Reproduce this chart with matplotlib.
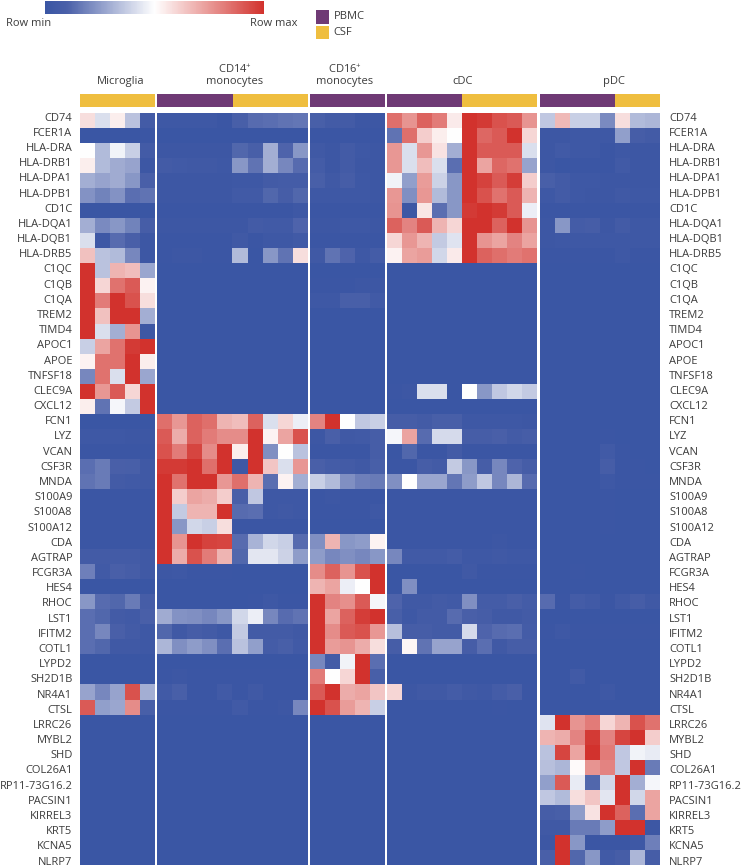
import numpy as np
import matplotlib
matplotlib.use('Agg')
import matplotlib.pyplot as plt
from matplotlib.colors import LinearSegmentedColormap
from matplotlib.cm import ScalarMappable
from matplotlib.patches import Rectangle

plt.rcParams['font.family'] = ['Open Sans', 'DejaVu Sans']
plt.rcParams['mathtext.default'] = 'regular'

genes = ['CD74', 'FCER1A', 'HLA-DRA', 'HLA-DRB1', 'HLA-DPA1', 'HLA-DPB1', 'CD1C', 'HLA-DQA1', 'HLA-DQB1', 'HLA-DRB5',
         'C1QC', 'C1QB', 'C1QA', 'TREM2', 'TIMD4', 'APOC1', 'APOE', 'TNFSF18', 'CLEC9A', 'CXCL12',
         'FCN1', 'LYZ', 'VCAN', 'CSF3R', 'MNDA', 'S100A9', 'S100A8', 'S100A12', 'CDA', 'AGTRAP',
         'FCGR3A', 'HES4', 'RHOC', 'LST1', 'IFITM2', 'COTL1', 'LYPD2', 'SH2D1B', 'NR4A1', 'CTSL',
         'LRRC26', 'MYBL2', 'SHD', 'COL26A1', 'RP11-73G16.2', 'PACSIN1', 'KIRREL3', 'KRT5', 'KCNA5', 'NLRP7']

# 0 = row min (blue), 50 = white, 100 = row max (red)
microglia = [
    [58, 42, 54, 35, 6], [0, 0, 0, 0, 1], [50, 33, 47, 38, 6], [54, 33, 29, 27, 2], [30, 27, 29, 24, 10],
    [23, 19, 23, 14, 15], [0, 0, 0, 0, 0], [30, 21, 24, 19, 8], [42, 3, 13, 10, 2], [65, 35, 33, 20, 2],
    [100, 35, 68, 66, 28], [100, 60, 84, 90, 53], [100, 82, 100, 92, 58], [100, 65, 100, 100, 30], [100, 42, 30, 76, 2],
    [38, 72, 84, 98, 100], [53, 84, 84, 100, 54], [20, 84, 42, 100, 28], [100, 75, 90, 60, 100], [54, 15, 48, 37, 100],
    [0, 0, 0, 0, 0], [3, 3, 3, 2, 2], [1, 1, 1, 1, 1], [14, 17, 10, 9, 4], [15, 17, 6, 5, 4],
    [1, 1, 1, 1, 1], [1, 1, 1, 1, 1], [1, 1, 1, 1, 1], [1, 1, 1, 1, 1], [6, 6, 6, 6, 4],
    [18, 5, 10, 8, 4], [0, 0, 0, 0, 0], [24, 13, 12, 17, 8], [14, 12, 6, 5, 10], [14, 20, 10, 6, 3],
    [14, 12, 4, 4, 3], [0, 0, 0, 0, 0], [0, 0, 0, 0, 0], [27, 20, 27, 92, 30], [90, 26, 28, 78, 9],
    [0, 0, 0, 0, 0], [0, 0, 0, 0, 0], [0, 0, 0, 0, 0], [0, 0, 0, 0, 0], [0, 0, 0, 0, 0],
    [0, 0, 0, 0, 0], [0, 0, 0, 0, 0], [0, 0, 0, 0, 0], [0, 0, 0, 0, 0], [0, 0, 0, 0, 0],
]
cd14 = [
    [3, 3, 3, 3, 1, 9, 13, 14, 15, 16], [0, 0, 0, 0, 0, 0, 0, 0, 0, 0], [2, 2, 2, 2, 2, 12, 9, 30, 11, 24],
    [6, 5, 4, 4, 3, 24, 15, 30, 20, 13], [2, 2, 2, 2, 2, 3, 3, 6, 7, 7], [2, 2, 2, 2, 2, 5, 5, 12, 8, 12],
    [1, 1, 1, 1, 1, 1, 1, 1, 1, 3], [2, 2, 2, 2, 2, 2, 6, 5, 5, 11], [1, 1, 1, 1, 1, 4, 1, 3, 3, 5],
    [1, 2, 2, 1, 1, 33, 0, 24, 15, 58],
    [0, 0, 0, 0, 0, 0, 0, 0, 0, 0], [0, 0, 0, 0, 0, 0, 0, 0, 0, 0], [0, 0, 0, 0, 0, 0, 0, 0, 0, 0],
    [0, 0, 0, 0, 0, 0, 0, 0, 0, 0], [0, 0, 0, 0, 0, 0, 0, 0, 0, 0], [0, 0, 0, 0, 0, 0, 0, 0, 0, 0],
    [0, 0, 0, 0, 0, 0, 0, 0, 0, 0], [0, 0, 0, 0, 0, 0, 0, 0, 0, 0], [0, 0, 0, 0, 0, 0, 0, 0, 0, 0],
    [0, 0, 0, 0, 0, 0, 0, 0, 0, 0],
    [85, 75, 88, 85, 68, 66, 88, 42, 60, 46], [90, 70, 88, 82, 78, 78, 100, 53, 72, 92],
    [92, 82, 95, 78, 100, 54, 100, 22, 50, 35], [98, 98, 100, 85, 100, 3, 100, 64, 42, 75],
    [100, 84, 100, 100, 75, 85, 68, 14, 53, 30], [100, 62, 72, 70, 62, 10, 36, 3, 3, 3],
    [100, 37, 68, 68, 100, 13, 14, 3, 4, 3], [100, 24, 40, 38, 58, 1, 1, 1, 1, 1],
    [100, 76, 100, 96, 95, 13, 31, 40, 38, 13], [100, 70, 92, 82, 68, 12, 44, 44, 39, 25],
    [2, 3, 1, 1, 1, 0, 0, 0, 0, 0], [0, 0, 0, 0, 0, 0, 0, 0, 0, 0], [0, 0, 0, 0, 0, 0, 1, 3, 1, 1],
    [29, 23, 22, 20, 24, 40, 46, 20, 13, 15], [12, 4, 8, 6, 3, 37, 6, 6, 6, 4],
    [32, 22, 25, 22, 14, 35, 26, 7, 9, 5], [0, 0, 0, 0, 0, 0, 0, 0, 0, 0], [1, 2, 1, 1, 1, 1, 1, 1, 1, 1],
    [5, 9, 1, 1, 5, 1, 4, 1, 1, 1], [1, 1, 1, 1, 1, 5, 1, 1, 2, 20],
    [0, 0, 0, 0, 0, 0, 0, 0, 0, 0], [0, 0, 0, 0, 0, 0, 0, 0, 0, 0], [0, 0, 0, 0, 0, 0, 0, 0, 0, 0],
    [0, 0, 0, 0, 0, 0, 0, 0, 0, 0], [0, 0, 0, 0, 0, 0, 0, 0, 0, 0], [0, 0, 0, 0, 0, 0, 0, 0, 0, 0],
    [0, 0, 0, 0, 0, 0, 0, 0, 0, 0], [0, 0, 0, 0, 0, 0, 0, 0, 0, 0], [0, 0, 0, 0, 0, 0, 0, 0, 0, 0],
    [0, 0, 0, 0, 0, 0, 0, 0, 0, 0],
]
cd16 = [
    [9, 6, 6, 2, 2], [1, 1, 1, 1, 1], [4, 2, 6, 3, 2], [7, 2, 6, 2, 2], [9, 4, 8, 3, 2],
    [3, 3, 3, 3, 2], [1, 1, 1, 1, 1], [2, 2, 3, 3, 2], [1, 1, 1, 1, 1], [4, 15, 11, 3, 7],
    [0, 0, 0, 0, 0], [1, 1, 1, 2, 2], [3, 3, 9, 9, 5], [0, 0, 0, 0, 0], [0, 0, 0, 0, 0],
    [0, 0, 0, 0, 0], [0, 0, 0, 0, 0], [0, 0, 0, 0, 0], [0, 0, 0, 0, 0], [0, 0, 0, 0, 0],
    [80, 100, 50, 36, 38], [2, 10, 4, 5, 8], [1, 1, 1, 1, 8], [10, 7, 6, 4, 9], [38, 33, 22, 18, 17],
    [1, 2, 1, 1, 1], [1, 1, 1, 1, 3], [0, 0, 0, 0, 0], [22, 68, 24, 25, 53], [25, 20, 22, 20, 24],
    [78, 88, 76, 92, 100], [68, 72, 46, 50, 100], [100, 80, 77, 90, 48], [100, 72, 88, 97, 100], [100, 78, 90, 92, 75],
    [100, 74, 76, 70, 58], [20, 6, 47, 100, 14], [82, 50, 60, 100, 9], [90, 100, 70, 72, 64], [100, 92, 74, 68, 38],
    [0, 0, 0, 0, 0], [0, 0, 0, 0, 0], [0, 0, 0, 0, 0], [0, 0, 0, 0, 0], [0, 0, 0, 0, 0],
    [0, 0, 0, 0, 0], [0, 0, 0, 0, 0], [0, 0, 0, 0, 0], [0, 0, 0, 0, 0], [0, 0, 0, 0, 0],
]
cdc = [
    [85, 76, 88, 82, 55, 100, 98, 92, 90, 76], [15, 85, 62, 54, 50, 100, 87, 90, 100, 60],
    [75, 42, 75, 57, 30, 100, 90, 90, 90, 42], [75, 42, 66, 42, 14, 100, 72, 87, 84, 27],
    [47, 26, 74, 39, 24, 100, 96, 90, 97, 62], [75, 22, 75, 33, 24, 100, 92, 84, 90, 68],
    [76, 2, 56, 14, 24, 98, 100, 98, 90, 46], [88, 80, 90, 68, 60, 100, 100, 88, 100, 76],
    [60, 75, 68, 37, 43, 100, 76, 72, 80, 72], [53, 72, 74, 40, 55, 100, 88, 85, 82, 84],
    [0, 0, 0, 0, 0, 0, 0, 0, 0, 0], [0, 0, 0, 0, 0, 0, 0, 0, 0, 0], [0, 0, 0, 0, 0, 0, 0, 0, 0, 0],
    [0, 0, 0, 0, 0, 0, 0, 0, 0, 0], [0, 0, 0, 0, 0, 0, 0, 0, 0, 0], [0, 0, 0, 0, 0, 0, 0, 0, 0, 0],
    [0, 0, 0, 0, 0, 0, 0, 0, 0, 0], [0, 0, 0, 0, 0, 0, 0, 0, 0, 0], [1, 2, 42, 42, 0, 50, 24, 36, 40, 37],
    [0, 0, 0, 0, 0, 0, 0, 0, 0, 0],
    [8, 8, 6, 9, 9, 3, 3, 3, 3, 2], [48, 72, 13, 41, 41, 8, 8, 10, 6, 8],
    [0, 12, 1, 1, 6, 1, 1, 1, 1, 1], [1, 1, 8, 6, 37, 24, 8, 20, 11, 8],
    [22, 50, 28, 28, 16, 25, 36, 20, 32, 13], [1, 1, 1, 1, 1, 1, 1, 1, 1, 1],
    [1, 1, 1, 1, 1, 1, 1, 1, 1, 1], [1, 1, 1, 1, 1, 1, 1, 1, 1, 1],
    [1, 1, 1, 1, 1, 1, 1, 2, 1, 1], [20, 5, 5, 5, 7, 3, 3, 4, 3, 3],
    [0, 0, 0, 0, 0, 4, 1, 1, 1, 1], [0, 22, 0, 0, 0, 0, 0, 0, 0, 0],
    [11, 4, 4, 6, 5, 22, 7, 7, 10, 7], [9, 3, 6, 6, 13, 10, 8, 4, 4, 6],
    [34, 8, 8, 6, 6, 41, 11, 13, 14, 7], [8, 52, 15, 27, 27, 8, 14, 4, 8, 8],
    [0, 0, 0, 0, 0, 0, 0, 0, 0, 0], [0, 0, 0, 0, 0, 0, 0, 0, 0, 0],
    [60, 2, 4, 4, 7, 4, 3, 7, 10, 1], [0, 0, 0, 0, 0, 0, 0, 1, 0, 0],
    [0, 0, 0, 0, 0, 0, 0, 0, 0, 0], [0, 0, 0, 0, 0, 0, 0, 0, 0, 0], [0, 0, 0, 0, 0, 0, 0, 0, 0, 0],
    [0, 0, 0, 0, 0, 0, 0, 0, 0, 0], [0, 0, 0, 0, 0, 0, 0, 0, 0, 0], [0, 0, 0, 0, 0, 0, 0, 0, 0, 0],
    [0, 0, 0, 0, 0, 0, 0, 0, 0, 0], [0, 0, 0, 0, 0, 0, 0, 0, 0, 0], [0, 0, 0, 0, 0, 0, 0, 0, 0, 0],
    [0, 0, 0, 0, 0, 0, 0, 0, 0, 0],
]
pdc = [
    [36, 67, 38, 38, 21, 58, 33, 32], [2, 2, 3, 3, 3, 26, 8, 6], [2, 5, 3, 3, 1, 3, 2, 2],
    [2, 0, 1, 1, 1, 5, 2, 2], [9, 6, 3, 3, 2, 2, 2, 2], [3, 6, 3, 2, 2, 4, 3, 3],
    [1, 1, 1, 1, 1, 1, 1, 1], [2, 24, 7, 8, 2, 6, 3, 3], [2, 3, 3, 3, 3, 3, 3, 3], [1, 1, 1, 1, 1, 3, 1, 1],
    [0, 0, 0, 0, 0, 0, 0, 0], [0, 0, 0, 0, 0, 0, 0, 0], [0, 0, 0, 0, 0, 0, 0, 0], [0, 0, 0, 0, 0, 0, 0, 0],
    [0, 0, 0, 0, 0, 0, 0, 0], [0, 0, 0, 0, 0, 0, 0, 0], [0, 0, 0, 0, 0, 0, 0, 0], [0, 0, 0, 0, 0, 0, 0, 0],
    [0, 0, 0, 0, 0, 0, 0, 0], [0, 0, 0, 0, 0, 0, 0, 0],
    [0, 0, 0, 0, 0, 0, 0, 0], [0, 0, 0, 0, 1, 0, 0, 0], [0, 0, 0, 0, 5, 1, 0, 0], [0, 0, 0, 0, 8, 1, 1, 0],
    [0, 0, 0, 0, 3, 1, 1, 1], [0, 0, 0, 0, 1, 0, 0, 0], [0, 0, 0, 0, 1, 0, 0, 0], [0, 0, 0, 0, 1, 0, 0, 0],
    [0, 0, 0, 0, 0, 0, 0, 0], [0, 0, 0, 0, 0, 0, 0, 0],
    [0, 0, 1, 0, 0, 0, 0, 0], [0, 0, 0, 0, 0, 0, 0, 0], [13, 1, 7, 5, 1, 5, 8, 4], [0, 0, 0, 0, 0, 0, 0, 0],
    [1, 3, 1, 1, 1, 1, 1, 1], [0, 0, 0, 0, 0, 0, 0, 0], [0, 0, 0, 0, 0, 0, 0, 0], [0, 0, 5, 0, 0, 0, 0, 0],
    [0, 0, 0, 0, 3, 0, 0, 0], [0, 0, 0, 0, 0, 0, 0, 0],
    [43, 100, 76, 82, 60, 68, 92, 84], [68, 70, 80, 98, 80, 95, 100, 62], [35, 95, 72, 100, 82, 36, 47, 45],
    [34, 32, 51, 76, 80, 36, 100, 17], [26, 90, 45, 12, 40, 100, 30, 48], [36, 33, 58, 64, 44, 100, 40, 72],
    [8, 9, 25, 57, 100, 88, 14, 72], [4, 4, 17, 17, 25, 100, 100, 2], [2, 100, 24, 1, 1, 1, 3, 18],
    [10, 100, 12, 24, 5, 8, 32, 8],
]

panels = [microglia, cd14, cd16, cdc, pdc]
panel_names = ['Microglia', 'CD14$^{+}$\nmonocytes', 'CD16$^{+}$\nmonocytes', 'cDC', 'pDC']
n_pbmc = [0, 5, 5, 5, 5]  # first columns of each panel that come from PBMC

W, H = 741, 866
PURPLE = '#6F3A75'
YELLOW = '#EFBE3F'
TXT = '#3c3c3c'
FS = 8

# stays dark longer at the blue end than a plain three colour ramp
cmap = LinearSegmentedColormap.from_list('rowscale', [(0, '#3A56A4'), (0.1, '#4A60A9'), (0.5, '#FFFFFF'), (1, '#D2322D')])


def px_axes(x0, y0, x1, y1):
    # pixel box, y measured from the top of the picture
    return fig.add_axes([x0 / W, 1 - y1 / H, (x1 - x0) / W, (y1 - y0) / H])


fig = plt.figure(figsize=(W / 100, H / 100), dpi=100)

x_left = [80, 157.3, 310, 387.3, 540]
x_right = [155, 307.7, 385, 537.3, 660]
title_x = [121, 234.5, 345, 462.7, 614]

heat_top, heat_bottom = 113.3, 865
row_h = (heat_bottom - heat_top) / len(genes)
# the gene labels run on a slightly wider pitch than the cells
label_px = 116.7 + 15.18 * np.arange(len(genes))
label_pos = (label_px - heat_top) / row_h - 0.5

for i, vals in enumerate(panels):
    arr = np.array(vals, dtype=float)
    ax = px_axes(x_left[i], heat_top, x_right[i], heat_bottom)
    ax.imshow(arr, cmap=cmap, vmin=0, vmax=100, aspect='auto', interpolation='nearest')
    ax.set_xticks([])
    for s in ax.spines.values():
        s.set_visible(False)
    if i == 0:
        ax.set_yticks(label_pos, genes, fontsize=FS, color=TXT)
        ax.tick_params(axis='y', length=0, pad=5.5)
    elif i == len(panels) - 1:
        ax.yaxis.tick_right()
        ax.set_yticks(label_pos, genes, fontsize=FS, color=TXT)
        ax.tick_params(axis='y', length=0, pad=6.5)
    else:
        ax.set_yticks([])
    ax.set_ylim(len(genes) - 0.5, -0.5)

    # tissue strip above the heatmap
    bar = px_axes(x_left[i], 93.5, x_right[i], 106.5)
    ncol = arr.shape[1]
    bar.set_xlim(0, ncol)
    bar.set_ylim(0, 1)
    bar.axis('off')
    if n_pbmc[i] > 0:
        bar.add_patch(Rectangle((0, 0), n_pbmc[i], 1, color=PURPLE, lw=0))
    bar.add_patch(Rectangle((n_pbmc[i], 0), ncol - n_pbmc[i], 1, color=YELLOW, lw=0))

    fig.text(title_x[i] / W, 1 - 87 / H, panel_names[i], ha='center', va='bottom',
             fontsize=FS, color=TXT, linespacing=0.95)

# colour scale
cax = px_axes(45, 1, 264, 14)
sm = ScalarMappable(cmap=cmap)
sm.set_clim(0, 100)
cb = fig.colorbar(sm, cax=cax, orientation='horizontal')
cb.set_ticks([])
cb.outline.set_visible(False)
fig.text(6 / W, 1 - 23.5 / H, 'Row min', fontsize=FS, color=TXT, va='center')
fig.text(250 / W, 1 - 23.5 / H, 'Row max', fontsize=FS, color=TXT, va='center')

# PBMC / CSF key
fig.add_artist(Rectangle((316 / W, 1 - 24 / H), 13 / W, 14 / H, color=PURPLE, lw=0, transform=fig.transFigure))
fig.add_artist(Rectangle((316 / W, 1 - 38.5 / H), 13 / W, 12.5 / H, color=YELLOW, lw=0, transform=fig.transFigure))
fig.text(333.5 / W, 1 - 16.5 / H, 'PBMC', fontsize=FS, color=TXT, va='center')
fig.text(333.5 / W, 1 - 32.5 / H, 'CSF', fontsize=FS, color=TXT, va='center')

fig.savefig('out.png', dpi=100)
